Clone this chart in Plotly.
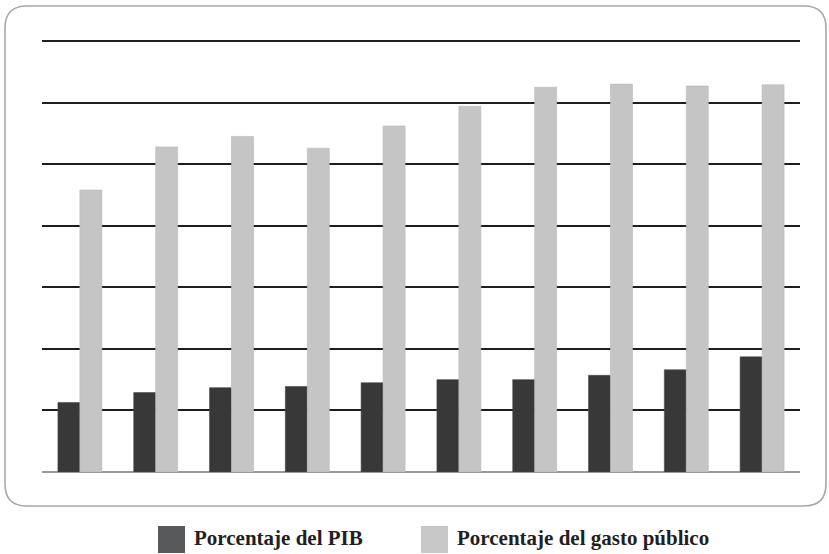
import plotly.graph_objects as go

# Data (one gridline step = 1 unit)
categorias = ["1", "2", "3", "4", "5", "6", "7", "8", "9", "10"]
pct_pib = [1.13, 1.29, 1.37, 1.39, 1.45, 1.50, 1.50, 1.57, 1.66, 1.87]
pct_gasto = [4.58, 5.28, 5.45, 5.26, 5.62, 5.94, 6.25, 6.30, 6.27, 6.29]
nombres = ["Porcentaje del PIB", "Porcentaje del gasto público"]

W, H = 829, 554
ML, MR, MT, MB = 42, 29, 39, 82
PW, PH = W - ML - MR, H - MT - MB
BASE = H - MB            # pixel row of value 0
UNIT = (BASE - 41) / 7   # pixels per gridline step
YTOP = (BASE - MT) / UNIT


def px(x):
    return (x - ML) / PW


def py(y):
    return (BASE - y) / PH


fig = go.Figure()
fig.add_trace(go.Bar(x=categorias, y=pct_pib, name=nombres[0],
                     marker=dict(color="#383838", line=dict(color="#4a4a4a", width=0.6)),
                     showlegend=False))
fig.add_trace(go.Bar(x=categorias, y=pct_gasto, name=nombres[1],
                     marker=dict(color="#c5c5c5", line=dict(color="#b8b8b8", width=0.6)),
                     showlegend=False))

# Rounded frame
L, R, T, B = px(5), px(826), py(6), py(506)
rx, ry = 22 / PW, 22 / PH
path = (f"M {L+rx},{T} L {R-rx},{T} Q {R},{T} {R},{T-ry} "
        f"L {R},{B+ry} Q {R},{B} {R-rx},{B} "
        f"L {L+rx},{B} Q {L},{B} {L},{B+ry} "
        f"L {L},{T-ry} Q {L},{T} {L+rx},{T} Z")
shapes = [dict(type="path", xref="paper", yref="paper", path=path,
               line=dict(color="#a8a8a8", width=1.6), fillcolor="rgba(0,0,0,0)",
               layer="below")]

# Manual legend
leg_colors = ["#58595b", "#c8c8c8"]
leg_sq_x = [158, 421]
leg_txt_x = [192, 455]
annotations = []
for i in range(2):
    shapes.append(dict(type="rect", xref="paper", yref="paper",
                       x0=px(leg_sq_x[i]), x1=px(leg_sq_x[i] + 27),
                       y0=py(526), y1=py(553),
                       line=dict(width=0), fillcolor=leg_colors[i]))
    annotations.append(dict(xref="paper", yref="paper", x=px(leg_txt_x[i]), y=py(538),
                            text=f"<b>{nombres[i]}</b>", showarrow=False,
                            xanchor="left", yanchor="middle",
                            font=dict(family="Liberation Serif", size=21, color="#231f20")))

fig.update_layout(
    width=W, height=H,
    margin=dict(l=ML, r=MR, t=MT, b=MB),
    paper_bgcolor="white", plot_bgcolor="white",
    barmode="group", bargap=0.42, bargroupgap=0,
    shapes=shapes, annotations=annotations,
    xaxis=dict(showticklabels=False, showgrid=False, zeroline=False,
               showline=False, ticks=""),
    yaxis=dict(range=[0, YTOP], tickvals=[1, 2, 3, 4, 5, 6, 7],
               showticklabels=False, ticks="",
               showgrid=True, gridcolor="#1e1e1e", gridwidth=2.4,
               zeroline=True, zerolinecolor="#9a9a9a", zerolinewidth=2,
               showline=False),
    showlegend=False,
)

fig.write_html("out.html", config={"displayModeBar": False},
               post_script="document.body.style.margin='0';document.body.style.overflow='hidden';")
